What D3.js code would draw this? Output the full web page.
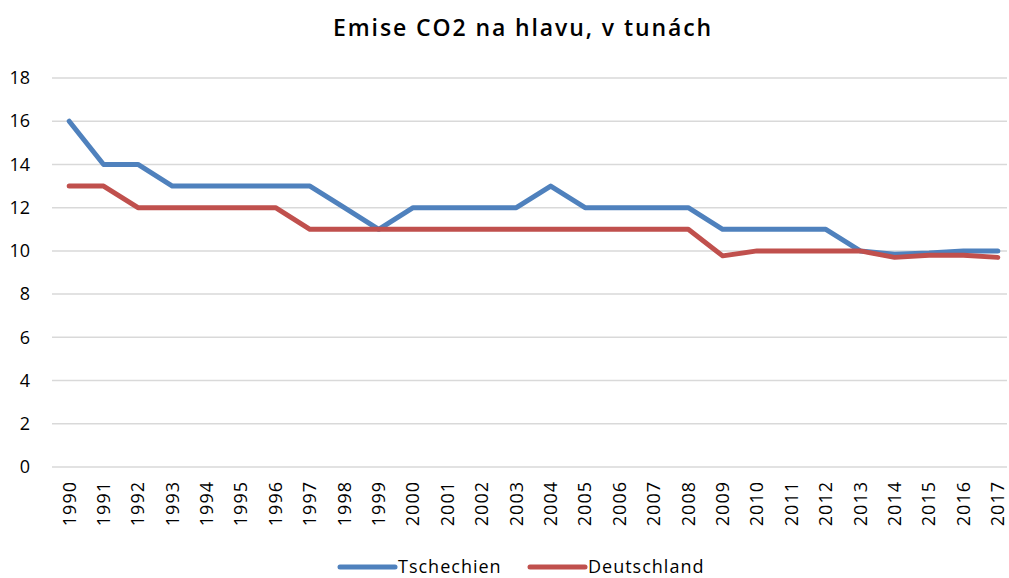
<!doctype html>
<html>
<head>
<meta charset="utf-8">
<style>
  body { margin: 0; background: #fff; }
  text { font-family: "Open Sans", sans-serif; fill: #000; }
</style>
<script src="https://d3js.org/d3.v7.min.js"></script>
</head>
<body>
<svg width="1009" height="578" id="chart"></svg>
<script>
var years = ["1990","1991","1992","1993","1994","1995","1996","1997","1998","1999",
             "2000","2001","2002","2003","2004","2005","2006","2007","2008","2009",
             "2010","2011","2012","2013","2014","2015","2016","2017"];
var tschechien = [16,14,14,13,13,13,13,13,12,11,12,12,12,12,13,12,12,12,12,11,11,11,11,10,9.85,9.9,10,10];
var deutschland = [13,13,12,12,12,12,12,11,11,11,11,11,11,11,11,11,11,11,11,9.77,10,10,10,10,9.7,9.8,9.8,9.7];
var yTicks = [0,2,4,6,8,10,12,14,16,18];
var seriesNames = ["Tschechien", "Deutschland"];
var colors = ["#4F81BD", "#C0504D"];

var svg = d3.select("#chart");
var plotLeft = 52, plotRight = 1007, plotTop = 78, plotBottom = 467;

// categories run a little past the right edge of the gridlines, like the original
var x = d3.scaleBand().domain(years).range([plotLeft, 1015]);
var y = d3.scaleLinear().domain([0, 18]).range([plotBottom, plotTop]);

svg.append("text")
   .attr("x", 523)
   .attr("y", 36)
   .attr("text-anchor", "middle")
   .attr("font-size", "23px")
   .attr("font-weight", "600")
   .attr("letter-spacing", "1.9px")
   .text("Emise CO2 na hlavu, v tunách");

// gridlines
svg.append("g")
   .selectAll("line")
   .data(yTicks)
   .enter().append("line")
   .attr("x1", plotLeft).attr("x2", plotRight)
   .attr("y1", function(d) { return y(d); })
   .attr("y2", function(d) { return y(d); })
   .attr("stroke", "#d9d9d9")
   .attr("stroke-width", 1.5);

// y labels
var yAxis = svg.append("g")
   .attr("transform", "translate(" + (plotLeft - 22) + ",0)")
   .call(d3.axisLeft(y).tickValues(yTicks).tickSize(0).tickPadding(0));
yAxis.select(".domain").remove();
yAxis.selectAll("text")
   .attr("font-size", "18px")
   .attr("font-family", "'Open Sans', sans-serif")
   .attr("fill", "#000");

// x labels
var xAxis = svg.append("g")
   .attr("transform", "translate(0," + plotBottom + ")")
   .call(d3.axisBottom(x).tickSize(0));
xAxis.select(".domain").remove();
xAxis.selectAll("text")
   .attr("font-size", "18px")
   .attr("font-family", "'Open Sans', sans-serif")
   .attr("letter-spacing", "1px")
   .attr("fill", "#000")
   .attr("transform", "rotate(-90)")
   .attr("text-anchor", "end")
   .attr("x", -14)
   .attr("y", 0)
   .attr("dy", "0.35em");

var line = d3.line()
   .x(function(d, i) { return x(years[i]) + x.bandwidth() / 2; })
   .y(function(d) { return y(d); });

[tschechien, deutschland].forEach(function(s, i) {
  svg.append("path")
     .datum(s)
     .attr("fill", "none")
     .attr("stroke", colors[i])
     .attr("stroke-width", 5)
     .attr("stroke-linejoin", "round")
     .attr("stroke-linecap", "round")
     .attr("d", line);
});

// legend
var legendX = [340, 530];
seriesNames.forEach(function(name, i) {
  var g = svg.append("g").attr("transform", "translate(" + legendX[i] + ",567)");
  g.append("line")
   .attr("x1", 0).attr("x2", 55)
   .attr("stroke", colors[i])
   .attr("stroke-width", 5)
   .attr("stroke-linecap", "round");
  g.append("text")
   .attr("x", 58)
   .attr("dy", "0.33em")
   .attr("font-size", "18px")
   .attr("letter-spacing", "1px")
   .text(name);
});
</script>
</body>
</html>
